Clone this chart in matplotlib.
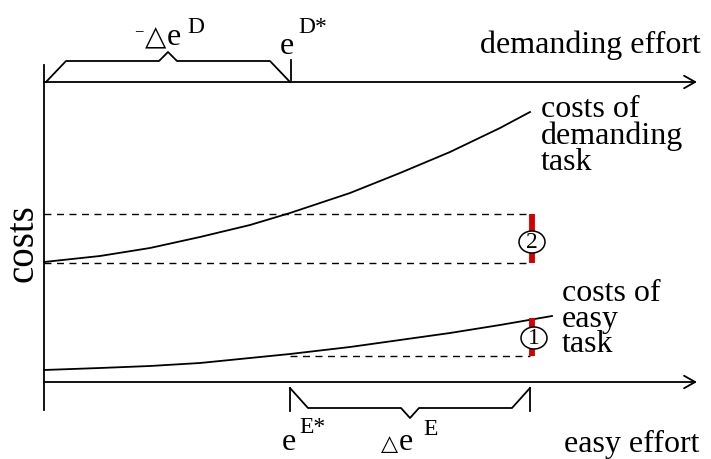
import matplotlib
matplotlib.use("Agg")
import matplotlib.pyplot as plt
from matplotlib.patches import Ellipse

plt.rcParams['font.family'] = ['Liberation Serif', 'DejaVu Sans']

# ---------------------------------------------------------------------------
# schematic values (drawing units = pixels of a 711 x 459 canvas, y downwards)
# ---------------------------------------------------------------------------
origin_x = 44
axis_end_x = 697
top_axis_y = 82          # demanding effort axis
bottom_axis_y = 382      # easy effort axis

eD_star = 290            # optimal demanding effort
eE_star = 290            # optimal easy effort
eE_max = 530             # effort level where the cost gap is measured

# cost curves
dem_x = [44, 100, 150, 200, 250, 290, 350, 400, 450, 500, 530]
dem_y = [262, 256, 248, 237, 225, 213, 193, 173, 152, 128, 112]
easy_x = [44, 100, 150, 200, 250, 290, 350, 400, 450, 500, 552]
easy_y = [370, 368, 366, 363, 358, 354, 347, 340, 333, 325, 316]

# cost levels
dem_low, dem_high = 263, 214
easy_low, easy_high = 356, 318

fig = plt.figure(figsize=(7.11, 4.59), dpi=100)
ax = fig.add_axes([0, 0, 1, 1])
ax.set_xlim(0, 711)
ax.set_ylim(459, 0)
ax.axis('off')

lw = 1.3
fs = 23
fs_sup = 17

# axes with open arrowheads
for y in (top_axis_y, bottom_axis_y):
    ax.annotate('', xy=(axis_end_x, y), xytext=(origin_x, y),
                arrowprops=dict(arrowstyle='->,head_length=0.8,head_width=0.45',
                                lw=lw, color='black', shrinkA=0, shrinkB=0,
                                mutation_scale=10))
ax.plot([origin_x, origin_x], [65, 410], color='black', lw=lw)

# cost curves
ax.plot(dem_x, dem_y, color='black', lw=lw)
ax.plot(easy_x, easy_y, color='black', lw=lw)

# dashed reference levels
dash = dict(color='black', lw=1.0, linestyle=(0, (5, 4)))
ax.plot([origin_x, eE_max], [dem_high, dem_high], **dash)
ax.plot([origin_x, eE_max], [dem_low, dem_low], **dash)
ax.plot([eE_star, eE_max], [easy_low, easy_low], **dash)

# red gaps
bar_x = eE_max + 2
ax.plot([bar_x, bar_x], [dem_high, dem_low], color='#d40000', lw=4.2, solid_capstyle='butt')
ax.plot([bar_x, bar_x], [easy_high, easy_low], color='#d40000', lw=4.2, solid_capstyle='butt')

# numbered circles
for cx, cy, num in ((bar_x, 242, '2'), (bar_x + 2, 338, '1')):
    ax.add_patch(Ellipse((cx, cy), 26, 22, facecolor='white', edgecolor='black', lw=1.1, zorder=5))
    ax.text(cx, cy + 1, num, fontsize=17, ha='center', va='center', zorder=6)


def brace(x0, x1, base, level, tip, slant=20, notch=9):
    mid = (x0 + x1) / 2
    xs = [x0, x0 + slant, mid - notch, mid, mid + notch, x1 - slant, x1]
    ys = [base, level, level, tip, level, level, base]
    ax.plot(xs, ys, color='black', lw=lw)


# top brace (-delta e^D)
brace(origin_x + 2, eD_star, top_axis_y, 61, 52)
ax.plot([eD_star + 1, eD_star + 1], [60, 80], color='black', lw=lw)

# bottom brace (delta e^E)
brace(eE_star, eE_max, bottom_axis_y + 6, 408, 418, slant=18)
ax.plot([eE_star, eE_star], [388, 411], color='black', lw=lw)
ax.plot([eE_max, eE_max], [388, 411], color='black', lw=lw)

# labels: -delta e^D
ax.text(139, 36, '\u2212', fontsize=12, ha='center', va='baseline')
ax.text(145, 45, '\u25b3', fontsize=20, ha='left', va='baseline', family='DejaVu Sans')
ax.text(167, 45, 'e', fontsize=fs, ha='left', va='baseline')
ax.text(187, 33, 'D', fontsize=fs_sup, ha='left', va='baseline')
# e^{D*}
ax.text(280, 54, 'e', fontsize=fs, ha='left', va='baseline')
ax.text(298, 33, 'D*', fontsize=fs_sup, ha='left', va='baseline')
ax.text(480, 53, 'demanding effort', fontsize=fs, ha='left', va='baseline')

# e^{E*}
ax.text(282, 450, 'e', fontsize=fs, ha='left', va='baseline')
ax.text(299, 433, 'E*', fontsize=fs_sup, ha='left', va='baseline')
# delta e^E
ax.text(381, 450, '\u25b3', fontsize=16, ha='left', va='baseline', family='DejaVu Sans')
ax.text(399, 450, 'e', fontsize=fs, ha='left', va='baseline')
ax.text(423, 435, 'E', fontsize=fs_sup, ha='left', va='baseline')
ax.text(700, 452, 'easy effort', fontsize=fs, ha='right', va='baseline')

ax.text(33, 243, 'costs', fontsize=28, rotation=90, ha='center', va='baseline',
        rotation_mode='anchor')

ax.text(541, 170, 'costs of\ndemanding\ntask', fontsize=fs, ha='left', va='baseline',
        linespacing=0.87)
ax.text(562, 352, 'costs of\neasy\ntask', fontsize=fs, ha='left', va='baseline',
        linespacing=0.84)

fig.savefig('out.png', dpi=100)
